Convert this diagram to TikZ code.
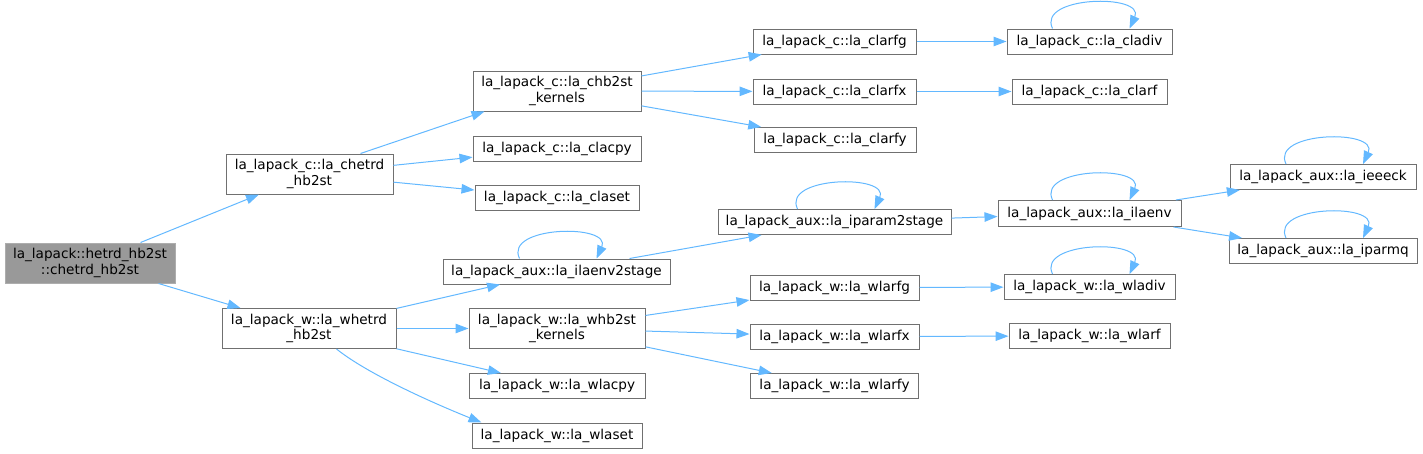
\documentclass[tikz,border=0pt]{standalone}
\usepackage{fontspec}
\setmainfont{DejaVu Sans}
\usetikzlibrary{arrows.meta,calc}
\definecolor{edgec}{HTML}{63B8FF}
\definecolor{bord}{HTML}{707070}
\definecolor{rootc}{HTML}{999999}
\newcommand\mybox[7][]{\node[box,#1,minimum width=#5pt,minimum height=#6pt] (#2) at (#3,#4) {#7};}
\newcommand\myloop[1]{\draw[edge] ($(#1.north)+(-37,0)$) .. controls +(-16,-33) and +(16,-35) .. ($(#1.north)+(40,0)$);}
\begin{document}
\begin{tikzpicture}[x=1pt,y=-1pt,
  box/.style={draw=bord,line width=1pt,fill=white,inner sep=0pt,align=center,
    font=\fontsize{13.6}{15.5}\selectfont},
  rootbox/.style={fill=rootc,draw=rootc!80!white},
  edge/.style={draw=edgec,line width=1pt,-{Triangle[length=13pt,width=9.5pt]}}]
\useasboundingbox (0,0) rectangle (1423,453);
\mybox[rootbox]{root}{90}{263}{170}{40}{la\_lapack::hetrd\_hb2st\\::chetrd\_hb2st}
\mybox{chetrd}{309.5}{174}{167}{40}{la\_lapack\_c::la\_chetrd\\\_hb2st}
\mybox{whetrd}{309}{328.5}{174}{40}{la\_lapack\_w::la\_whetrd\\\_hb2st}
\mybox{chb2st}{557}{91}{168}{40}{la\_lapack\_c::la\_chb2st\\\_kernels}
\mybox{clacpy}{557}{148.5}{168}{25}{la\_lapack\_c::la\_clacpy}
\mybox{claset}{557}{198}{164}{25}{la\_lapack\_c::la\_claset}
\mybox{clarfg}{834.5}{41.5}{163}{25}{la\_lapack\_c::la\_clarfg}
\mybox{clarfx}{834.5}{91.5}{163}{25}{la\_lapack\_c::la\_clarfx}
\mybox{clarfy}{835}{140}{162}{25}{la\_lapack\_c::la\_clarfy}
\mybox{cladiv}{1089.5}{41.5}{165}{25}{la\_lapack\_c::la\_cladiv}
\mybox{clarf}{1089.5}{91.5}{155}{25}{la\_lapack\_c::la\_clarf}
\mybox{ilaenvtwo}{556.5}{271.5}{227}{25}{la\_lapack\_aux::la\_ilaenv2stage}
\mybox{iparam}{834.5}{222}{233}{25}{la\_lapack\_aux::la\_iparam2stage}
\mybox{ilaenv}{1089.5}{213.5}{183}{26}{la\_lapack\_aux::la\_ilaenv}
\mybox{ieeeck}{1323}{177}{186}{25}{la\_lapack\_aux::la\_ieeeck}
\mybox{iparmq}{1323}{251}{188}{25}{la\_lapack\_aux::la\_iparmq}
\mybox{whb2st}{557}{328.5}{176}{40}{la\_lapack\_w::la\_whb2st\\\_kernels}
\mybox{wlacpy}{557}{386}{176}{25}{la\_lapack\_w::la\_wlacpy}
\mybox{wlaset}{557}{435.5}{170}{25}{la\_lapack\_w::la\_wlaset}
\mybox{wlarfg}{834.5}{287.5}{169}{25}{la\_lapack\_w::la\_wlarfg}
\mybox{wlarfx}{834.5}{336.5}{169}{25}{la\_lapack\_w::la\_wlarfx}
\mybox{wlarfy}{834.5}{386}{168}{25}{la\_lapack\_w::la\_wlarfy}
\mybox{wladiv}{1089.5}{287}{171}{25}{la\_lapack\_w::la\_wladiv}
\mybox{wlarf}{1089.5}{336}{161}{25}{la\_lapack\_w::la\_wlarf}
% edges
\draw[edge] (root) -- (chetrd);
\draw[edge] (root) -- (whetrd);
\draw[edge] ($(chetrd.north)+(51,0)$) -- ($(chb2st.south west)+(12,0)$);
\draw[edge] (chetrd) -- (clacpy);
\draw[edge] (chetrd) -- (claset);
\draw[edge] (whetrd) -- (ilaenvtwo);
\draw[edge] (whetrd) -- (whb2st);
\draw[edge] (whetrd) -- (wlacpy);
\draw[edge] ($(whetrd.south west)+(115,0)$) .. controls +(35,28) and +(-35,-14) .. ($(wlaset.north west)+(10,0)$);
\draw[edge] (chb2st) -- (clarfg);
\draw[edge] (chb2st) -- (clarfx);
\draw[edge] (chb2st) -- (clarfy);
\draw[edge] (clarfg) -- (cladiv);
\draw[edge] (clarfx) -- (clarf);
\draw[edge] (ilaenvtwo) -- (iparam);
\draw[edge] (iparam) -- (ilaenv);
\draw[edge] (ilaenv) -- (ieeeck);
\draw[edge] (ilaenv) -- (iparmq);
\draw[edge] (whb2st) -- (wlarfg);
\draw[edge] (whb2st) -- (wlarfx);
\draw[edge] (whb2st) -- (wlarfy);
\draw[edge] (wlarfg) -- (wladiv);
\draw[edge] (wlarfx) -- (wlarf);
% self loops
\myloop{cladiv}
\myloop{ilaenvtwo}
\myloop{iparam}
\myloop{ilaenv}
\myloop{ieeeck}
\myloop{iparmq}
\myloop{wladiv}
\end{tikzpicture}
\end{document}
